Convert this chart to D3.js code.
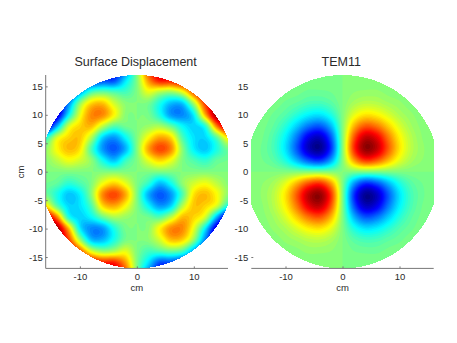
<!DOCTYPE html>
<html>
<head>
<meta charset="utf-8">
<script src="https://cdn.jsdelivr.net/npm/d3@7"></script>
<style>
  body { margin: 0; background: #fff; }
  text { font-family: "Liberation Sans", sans-serif; fill: #2a2a2a; }
</style>
</head>
<body>
<div id="svgcontainer"></div>
<script>
const DIMENSIONS = { width: 457, height: 343 };

// sample positions of the grids, cm
const xValues = [-16, -14, -12, -10, -8, -6, -4, -2, 0, 2, 4, 6, 8, 10, 12, 14, 16];
const yValues = [18, 16, 14, 12, 10, 8, 6, 4, 2, 0, -2, -4, -6, -8, -10, -12, -14, -16, -18];
const xTicks = [-10, 0, 10];
const yTicks = [-15, -10, -5, 0, 5, 10, 15];
const titles = ["Surface Displacement", "TEM11"];

// one row per y value
const surfaceValues = [
  [-1, -1, -1, -.9, -.8, -.75, -.75, -.5, 0, .6, .85, .85, .9, .9, 1, 1, 1],
  [-1, -1, -.9, -.8, -.7, -.6, -.6, -.3, 0, .45, .7, .7, .8, .85, .9, 1, 1],
  [-1, -1, -.8, -.45, -.12, -.05, -.1, -.12, 0, .2, .1, .05, .2, .6, .9, 1, 1],
  [-1, -.9, -.5, .03, .33, .37, .16, .02, 0, -.02, -.2, -.38, -.36, .08, .65, .9, 1],
  [-1, -.85, -.28, .2, .48, .48, .26, .02, 0, -.02, -.2, -.45, -.48, -.27, .4, .95, 1],
  [-.9, -.4, .16, .33, .38, .12, -.08, -.03, 0, .05, .08, -.05, -.25, -.33, -.18, .5, .9],
  [-.2, .18, .33, .36, .1, -.33, -.45, -.25, 0, .25, .42, .32, -.1, -.3, -.32, -.08, .3],
  [.03, .25, .38, .3, -.1, -.45, -.58, -.4, 0, .42, .62, .48, .02, -.27, -.36, -.2, -.03],
  [.02, .12, .22, .16, .03, -.22, -.37, -.15, 0, .2, .33, .22, 0, -.1, -.16, -.06, -.03],
  [0, 0, 0, 0, 0, 0, 0, 0, 0, 0, 0, 0, 0, 0, 0, 0, 0],
  [-.03, -.06, -.16, -.1, 0, .22, .33, .2, 0, -.15, -.37, -.22, .03, .16, .22, .12, .02],
  [-.03, -.2, -.36, -.27, .02, .48, .62, .42, 0, -.4, -.58, -.45, -.1, .3, .38, .25, .03],
  [.3, -.08, -.32, -.3, -.1, .32, .42, .25, 0, -.25, -.45, -.33, .1, .36, .33, .18, -.2],
  [.9, .5, -.18, -.33, -.25, -.05, .08, .05, 0, -.03, -.08, .12, .38, .33, .16, -.4, -.9],
  [1, .95, .4, -.27, -.48, -.45, -.2, -.02, 0, .02, .26, .48, .48, .2, -.28, -.85, -1],
  [1, .9, .65, .08, -.36, -.38, -.2, -.02, 0, .02, .16, .37, .33, .03, -.5, -.9, -1],
  [1, 1, .9, .6, .2, .05, .1, .2, 0, -.12, -.1, -.05, -.12, -.45, -.8, -1, -1],
  [1, 1, .9, .85, .8, .7, .7, .45, 0, -.3, -.6, -.6, -.7, -.8, -.9, -1, -1],
  [1, 1, 1, .9, .9, .85, .85, .6, 0, -.5, -.75, -.75, -.8, -.9, -1, -1, -1]
];

const temValues = [
  [0, 0, 0, 0, 0, 0, 0, 0, 0, 0, 0, 0, 0, 0, 0, 0, 0],
  [0, 0, 0, 0, -.01, -.01, -.01, -.01, 0, .01, .01, .01, .01, 0, 0, 0, 0],
  [0, 0, 0, -.01, -.02, -.04, -.04, -.03, 0, .03, .04, .04, .02, .01, 0, 0, 0],
  [0, 0, -.01, -.04, -.07, -.11, -.12, -.08, 0, .08, .12, .11, .07, .04, .01, 0, 0],
  [0, -.01, -.04, -.09, -.18, -.27, -.3, -.2, 0, .2, .3, .27, .18, .09, .04, .01, 0],
  [0, -.02, -.07, -.18, -.35, -.52, -.58, -.39, 0, .39, .58, .52, .35, .18, .07, .02, 0],
  [-.01, -.03, -.11, -.27, -.52, -.79, -.87, -.58, 0, .58, .87, .79, .52, .27, .11, .03, .01],
  [-.01, -.04, -.12, -.3, -.58, -.87, -.96, -.65, 0, .65, .96, .87, .58, .3, .12, .04, .01],
  [-.01, -.03, -.08, -.2, -.39, -.58, -.65, -.43, 0, .43, .65, .58, .39, .2, .08, .03, .01],
  [0, 0, 0, 0, 0, 0, 0, 0, 0, 0, 0, 0, 0, 0, 0, 0, 0],
  [.01, .03, .08, .2, .39, .58, .65, .43, 0, -.43, -.65, -.58, -.39, -.2, -.08, -.03, -.01],
  [.01, .04, .12, .3, .58, .87, .96, .65, 0, -.65, -.96, -.87, -.58, -.3, -.12, -.04, -.01],
  [.01, .03, .11, .27, .52, .79, .87, .58, 0, -.58, -.87, -.79, -.52, -.27, -.11, -.03, -.01],
  [0, .02, .07, .18, .35, .52, .58, .39, 0, -.39, -.58, -.52, -.35, -.18, -.07, -.02, 0],
  [0, .01, .04, .09, .18, .27, .3, .2, 0, -.2, -.3, -.27, -.18, -.09, -.04, -.01, 0],
  [0, 0, .01, .04, .07, .11, .12, .08, 0, -.08, -.12, -.11, -.07, -.04, -.01, 0, 0],
  [0, 0, 0, .01, .02, .04, .04, .03, 0, -.03, -.04, -.04, -.02, -.01, 0, 0, 0],
  [0, 0, 0, 0, .01, .01, .01, .01, 0, -.01, -.01, -.01, -.01, 0, 0, 0, 0],
  [0, 0, 0, 0, 0, 0, 0, 0, 0, 0, 0, 0, 0, 0, 0, 0, 0]
];

// matlab jet
const jet = d3.scaleLinear()
    .domain([-1, -.75, -.25, .25, .75, 1])
    .range(["#000080", "#0000ff", "#00ffff", "#ffff00", "#ff0000", "#800000"])
    .clamp(true);

const UPSAMPLE = 8;
const AXIS_COLOR = "#777";

function catmull(p0, p1, p2, p3, t) {
    return 0.5 * (2 * p1 + (p2 - p0) * t + (2 * p0 - 5 * p1 + 4 * p2 - p3) * t * t + (3 * p1 - p0 - 3 * p2 + p3) * t * t * t);
}

// smooth the coarse readings so the contours have no corners
function smoothGrid(rows) {
    const nx = rows[0].length, ny = rows.length;
    const w = (nx - 1) * UPSAMPLE + 1, h = (ny - 1) * UPSAMPLE + 1;
    const at = (i, j) => rows[Math.max(0, Math.min(ny - 1, j))][Math.max(0, Math.min(nx - 1, i))];
    const out = new Array(w * h);
    for (let b = 0; b < h; b++) {
        const j = Math.min(ny - 2, Math.floor(b / UPSAMPLE)), v = b / UPSAMPLE - j;
        for (let a = 0; a < w; a++) {
            const i = Math.min(nx - 2, Math.floor(a / UPSAMPLE)), u = a / UPSAMPLE - i;
            const col = [-1, 0, 1, 2].map(d => catmull(at(i - 1, j + d), at(i, j + d), at(i + 1, j + d), at(i + 2, j + d), u));
            out[b * w + a] = catmull(col[0], col[1], col[2], col[3], v);
        }
    }
    return { w, h, out };
}

const svg = d3.select("#svgcontainer")
    .append("svg")
    .attr("width", DIMENSIONS.width)
    .attr("height", DIMENSIONS.height);

function drawPanel(id, title, rows, left, right, showYLine) {
    const x = d3.scaleLinear().domain([-16, 16]).range([left, right]);
    const y = d3.scaleLinear().domain([-17, 17]).range([268.4, 75]);

    // disc of 17 cm cut off at the x limits. a mask, since a clip lets the lower contours bleed at the edge
    const disc = d3.line()
        .x(a => x(Math.max(-16, Math.min(16, 17 * Math.cos(a)))))
        .y(a => y(17 * Math.sin(a)));

    svg.append("mask")
        .attr("id", id)
        .attr("maskUnits", "userSpaceOnUse")
        .attr("x", 0).attr("y", 0)
        .attr("width", DIMENSIONS.width).attr("height", DIMENSIONS.height)
        .append("path")
        .attr("d", disc(d3.range(0, 2 * Math.PI + 0.02, 0.02)) + "Z")
        .attr("fill", "#fff")
        .attr("shape-rendering", "crispEdges");

    const grid = smoothGrid(rows);
    const thresholds = d3.range(0, 64).map(k => -1 + k * 2 / 64);
    thresholds[0] = -100;
    const contours = d3.contours().size([grid.w, grid.h]).smooth(true).thresholds(thresholds)(grid.out);

    // contour coords are grid cells, push them through the scales
    const project = d3.geoPath(d3.geoTransform({
        point: function(a, b) {
            const gx = xValues[0] + (a - 0.5) * (xValues[1] - xValues[0]) / UPSAMPLE;
            const gy = yValues[0] + (b - 0.5) * (yValues[1] - yValues[0]) / UPSAMPLE;
            this.stream.point(x(gx), y(gy));
        }
    }));

    svg.append("g")
        .attr("mask", "url(#" + id + ")")
        .selectAll("path")
        .data(contours)
        .enter()
        .append("path")
        .attr("d", project)
        .attr("fill", (d, i) => jet(-1 + (i + 0.5) * 2 / 64));

    const xAxis = svg.append("g")
        .attr("transform", "translate(0," + y(-17) + ")")
        .call(d3.axisBottom(x).tickValues(xTicks).tickSize(-2).tickPadding(5).tickFormat(d3.format("d")));
    const yAxis = svg.append("g")
        .attr("transform", "translate(" + left + ",0)")
        .call(d3.axisLeft(y).tickValues(yTicks).tickSize(-2).tickPadding(3).tickFormat(d3.format("d")));

    [xAxis, yAxis].forEach(axis => {
        axis.attr("font-family", null).attr("font-size", 9.5);
        axis.selectAll("path, line").attr("stroke", AXIS_COLOR).attr("stroke-width", 1);
        axis.selectAll("text").text(function() { return d3.select(this).text().replace("\u2212", "-"); });
    });
    xAxis.select(".domain").attr("d", "M" + left + ",0H" + right);
    yAxis.select(".domain").attr("d", "M0," + y(-17) + "V" + y(17));

    // right panel: the image hides the y axis line and all ticks but -15
    if (!showYLine) {
        yAxis.select(".domain").remove();
        yAxis.selectAll(".tick line").filter(d => d !== -15).remove();
    }

    svg.append("text")
        .attr("x", (left + right) / 2 - 1.2)
        .attr("y", 66)
        .attr("text-anchor", "middle")
        .attr("font-size", 12.5)
        .text(title);

    svg.append("text")
        .attr("x", (left + right) / 2)
        .attr("y", 291)
        .attr("text-anchor", "middle")
        .attr("font-size", 9.5)
        .text("cm");
}

drawPanel("mask-surface", titles[0], surfaceValues, 45.7, 228, true);
drawPanel("mask-tem", titles[1], temValues, 251.3, 433.7, false);

svg.append("text")
    .attr("transform", "translate(24,172) rotate(-90)")
    .attr("text-anchor", "middle")
    .attr("font-size", 9.5)
    .text("cm");
</script>
</body>
</html>
